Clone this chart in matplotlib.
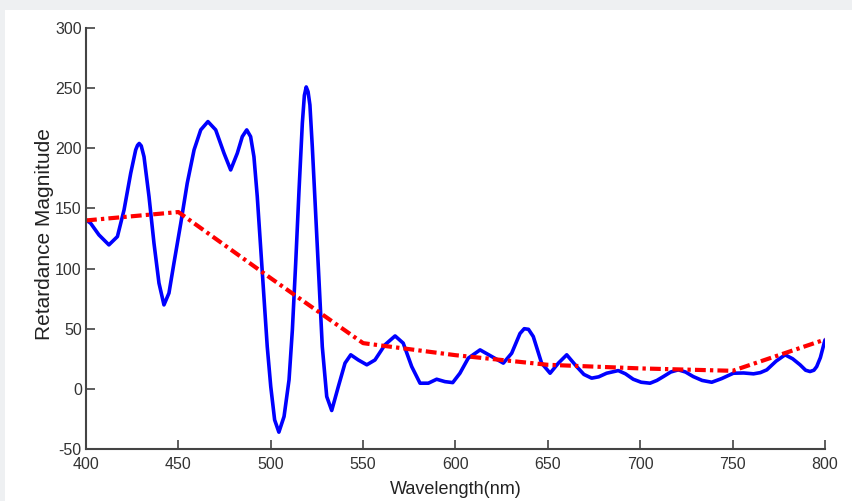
import matplotlib
matplotlib.use('Agg')
import matplotlib.pyplot as plt
from matplotlib.patches import Rectangle

wl_meas = [400, 402.5, 407, 412.4, 417, 420.6, 424.2, 426.9, 427.9, 428.8, 429.9, 431.4,
           434.1, 436.8, 439.5, 442.2, 444.9, 447.6, 451.3, 454.8, 458.5, 462.1,
           466, 470.2, 474.7, 478.3, 481.9, 484.6, 487, 489.1, 490.9, 492.7,
           494.5, 496.3, 498.1, 500, 502.1, 504.4, 507.2, 509.9, 511.7, 513.5,
           515.3, 517.1, 518.2, 519.2, 520.2, 521.2, 522.5, 524.3, 526.1, 527.9,
           530.3, 533, 536.6, 540.2, 543.3, 547.4, 552, 556.4, 561.8, 567.3,
           571.7, 576.3, 580.8, 585.3, 589.8, 594.3, 598.5, 602.4, 606.9, 613.3,
           619.6, 625.9, 630.4, 634.9, 637.2, 639.5, 642.1, 646.6, 651.2, 655.7,
           660.2, 665.6, 669.5, 673.7, 677.5, 681.8, 688.1, 692, 696.2, 700.5,
           705.3, 709, 712.5, 716.5, 720.6, 724.5, 728.7, 733.5, 738.7, 744,
           750.4, 756, 761.3, 765, 768.5, 773.5, 778.4, 782.5, 786.5, 789.5,
           791.9, 794, 795.5, 797.5, 800]
ret_meas = [140.5, 137.7, 128, 119.7, 126.6, 148.8, 179.3, 198.7, 202.5, 204, 202, 193,
            159.9, 121, 87.9, 69.8, 79.6, 104.5, 137.7, 171, 198.7, 215.3,
            222.2, 215.3, 195.9, 182, 195.9, 209.7, 215.3, 209.7, 193, 159.9,
            118.3, 76.7, 35.2, 1.9, -25.8, -36, -23, 7.5, 49, 104.5,
            165, 220.9, 244, 251, 247, 236, 201, 146, 90.6, 35,
            -6.4, -18, 2, 21.4, 28.3, 24, 20, 24, 36.6, 44,
            38, 18.5, 4.7, 4.7, 8, 6, 5.2, 13, 25.5, 32.4,
            26.9, 21.4, 29.6, 46, 50, 49.5, 43.5, 21.4, 13, 21.4,
            28.3, 18.5, 12, 8.9, 10, 13, 15.2, 12.5, 8, 5.5,
            4.7, 7, 10.2, 14, 15.8, 14, 10.2, 7, 5.5, 8.5,
            13, 13.2, 12.5, 13.5, 15.8, 23, 28.3, 25, 20, 15.5,
            14.4, 15.5, 18.5, 26, 40.7]

# reference retardance (red dash-dot)
wl_fit = [400, 450, 500, 550, 600, 650, 700, 750, 800]
ret_fit = [140, 147, 92, 38, 28, 20, 17, 15, 41]

x_ticks = [400, 450, 500, 550, 600, 650, 700, 750, 800]
y_ticks = [-50, 0, 50, 100, 150, 200, 250, 300]

font = ['Liberation Sans', 'DejaVu Sans']

fig = plt.figure(figsize=(8.53, 5.01), dpi=100)
fig.patch.set_facecolor('#eef0f2')
fig.patches.append(Rectangle((5 / 853, 0), 1, 1 - 10 / 501, transform=fig.transFigure,
                             facecolor='white', edgecolor='none', zorder=-1))

ax = fig.add_axes([86 / 853, 1 - 449 / 501, 739 / 853, 421 / 501])
ax.set_facecolor('white')

ax.plot(wl_meas, ret_meas, color='#0000ff', lw=2.6, solid_joinstyle='round',
        solid_capstyle='round')
ax.plot(wl_fit, ret_fit, color='#ff0000', lw=3.0, dashes=(2.6, 1.0, 0.8, 1.0))

ax.set_xlim(400, 800)
ax.set_ylim(-50, 300)
ax.set_xticks(x_ticks)
ax.set_yticks(y_ticks)
ax.set_xticklabels([str(v) for v in x_ticks], family=font, fontsize=11.5, color='#333333')
ax.set_yticklabels([str(v) for v in y_ticks], family=font, fontsize=11.5, color='#333333')
ax.tick_params(direction='in', length=6.5, width=1.1, color='#333333')
ax.tick_params(axis='x', pad=6)
ax.tick_params(axis='y', pad=3)

for side in ['top', 'right']:
    ax.spines[side].set_visible(False)
for side in ['left', 'bottom']:
    ax.spines[side].set_color('#444444')
    ax.spines[side].set_linewidth(1.5)

ax.set_xlabel('Wavelength(nm)', family=font, fontsize=13, color='#222222')
ax.set_ylabel('Retardance Magnitude', family=font, fontsize=15, color='#222222')
ax.xaxis.set_label_coords(0.5, -0.076)
ax.yaxis.set_label_coords(-0.043, 0.51)

fig.savefig('out.png', dpi=100, facecolor=fig.get_facecolor())
